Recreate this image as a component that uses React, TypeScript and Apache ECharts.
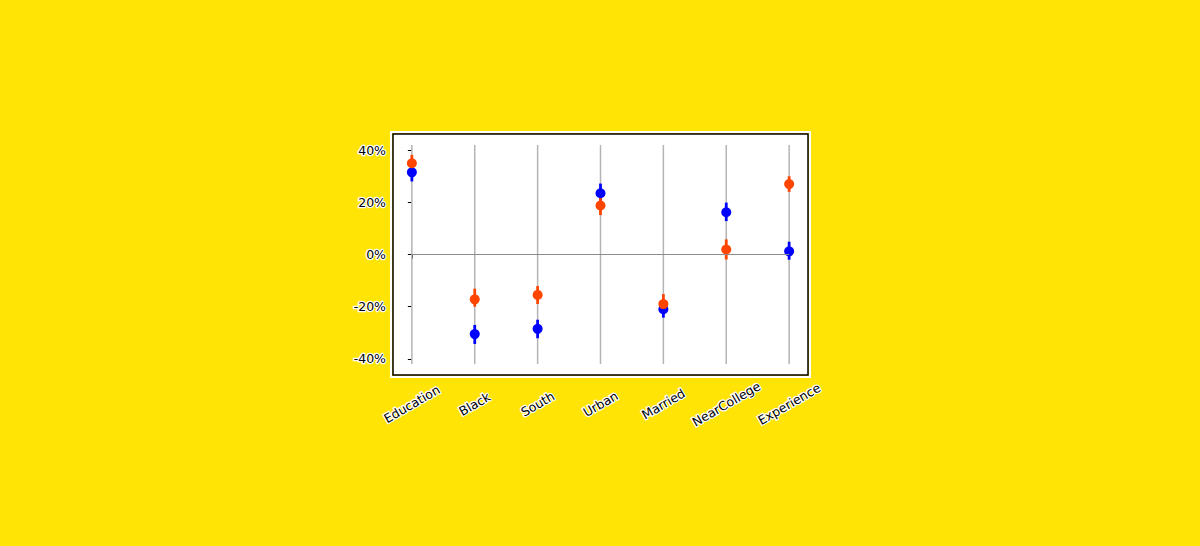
import React, { useEffect, useRef } from "react";
import * as echarts from "echarts";

const categories = ["Education", "Black", "South", "Urban", "Married", "NearCollege", "Experience"];
const yTicks = [-0.4, -0.2, 0, 0.2, 0.4];

const blueValues = [0.315, -0.305, -0.285, 0.235, -0.21, 0.162, 0.012];
const blueLow = [0.28, -0.343, -0.321, 0.2, -0.242, 0.128, -0.02];
const blueHigh = [0.35, -0.27, -0.25, 0.272, -0.178, 0.199, 0.049];

const orangeValues = [0.35, -0.172, -0.155, 0.188, -0.19, 0.019, 0.27];
const orangeLow = [0.315, -0.2, -0.19, 0.151, -0.222, -0.019, 0.24];
const orangeHigh = [0.382, -0.131, -0.121, 0.225, -0.152, 0.058, 0.3];

const lineSpan = [-0.42, 0.42];

const BLUE = "#0000ff";
const ORANGE = "#ff4500";
const FONT = "DejaVu Sans";

function errSeries(low: number[], high: number[], color: string) {
  return {
    type: "custom",
    data: low.map((l, i) => [i, l, high[i]]),
    renderItem: (params: any, api: any) => {
      const a = api.coord([api.value(0), api.value(1)]);
      const b = api.coord([api.value(0), api.value(2)]);
      return {
        type: "line",
        shape: { x1: a[0], y1: a[1], x2: b[0], y2: b[1] },
        style: { stroke: color, lineWidth: 2.8 },
      };
    },
    silent: true,
  };
}

export default function App() {
  const ref = useRef<HTMLDivElement>(null);
  useEffect(() => {
    document.body.style.margin = "0";
    const chart = echarts.init(ref.current!, null, { renderer: "svg" });
    const xIdx = categories.map((_, i) => i);
    chart.setOption({
      animation: false,
      backgroundColor: "#ffe405",
      grid: {
        left: 393,
        top: 134,
        right: 392,
        bottom: 171,
        show: true,
        backgroundColor: "#ffffff",
        borderColor: "#000000",
        borderWidth: 1.5,
      },
      graphic: [
        {
          type: "rect",
          shape: { x: 391, y: 132, width: 419, height: 245 },
          style: { fill: "none", stroke: "#ffffff", lineWidth: 2 },
          silent: true,
        },
      ],
      xAxis: {
        type: "value",
        min: -0.3,
        max: 6.3,
        splitLine: { show: false },
        axisLine: { show: false },
        axisTick: { show: true, customValues: xIdx, length: 4, lineStyle: { color: "#000", width: 1 } },
        axisLabel: {
          customValues: xIdx,
          formatter: (v: number) => categories[Math.round(v)] ?? "",
          rotate: 30,
          align: "center",
          verticalAlign: "middle",
          margin: 29,
          fontFamily: FONT,
          fontSize: 12.5,
          color: "#000",
          textBorderColor: "#fff",
          textBorderWidth: 2.5,
        },
      },
      yAxis: {
        type: "value",
        min: -0.462,
        max: 0.462,
        splitLine: { show: false },
        axisLine: { show: false },
        axisTick: { show: true, customValues: yTicks, length: 4, lineStyle: { color: "#000", width: 1 } },
        axisLabel: {
          customValues: yTicks,
          formatter: (v: number) => `${Math.round(v * 100)}%`,
          margin: 7,
          fontFamily: FONT,
          fontSize: 12.5,
          color: "#000",
          textBorderColor: "#fff",
          textBorderWidth: 2.5,
        },
      },
      series: [
        {
          type: "custom",
          data: xIdx.map((i) => [i, lineSpan[0], lineSpan[1]]),
          renderItem: (params: any, api: any) => {
            const a = api.coord([api.value(0), api.value(1)]);
            const b = api.coord([api.value(0), api.value(2)]);
            return {
              type: "line",
              shape: { x1: a[0], y1: a[1], x2: b[0], y2: b[1] },
              style: { stroke: "#b4b4b4", lineWidth: 1.5 },
            };
          },
          silent: true,
        },
        {
          type: "line",
          data: [
            [0, 0],
            [categories.length - 1, 0],
          ],
          symbol: "none",
          lineStyle: { color: "#8c8c8c", width: 1 },
          silent: true,
        },
        errSeries(blueLow, blueHigh, BLUE),
        {
          type: "scatter",
          data: blueValues.map((v, i) => [i, v]),
          symbol: "circle",
          symbolSize: 10,
          itemStyle: { color: BLUE, opacity: 1 },
        },
        errSeries(orangeLow, orangeHigh, ORANGE),
        {
          type: "scatter",
          data: orangeValues.map((v, i) => [i, v]),
          symbol: "circle",
          symbolSize: 10,
          itemStyle: { color: ORANGE, opacity: 1 },
        },
      ],
    });
    return () => chart.dispose();
  }, []);
  return <div ref={ref} style={{ width: 1200, height: 546, position: "absolute", left: 0, top: 0 }} />;
}
